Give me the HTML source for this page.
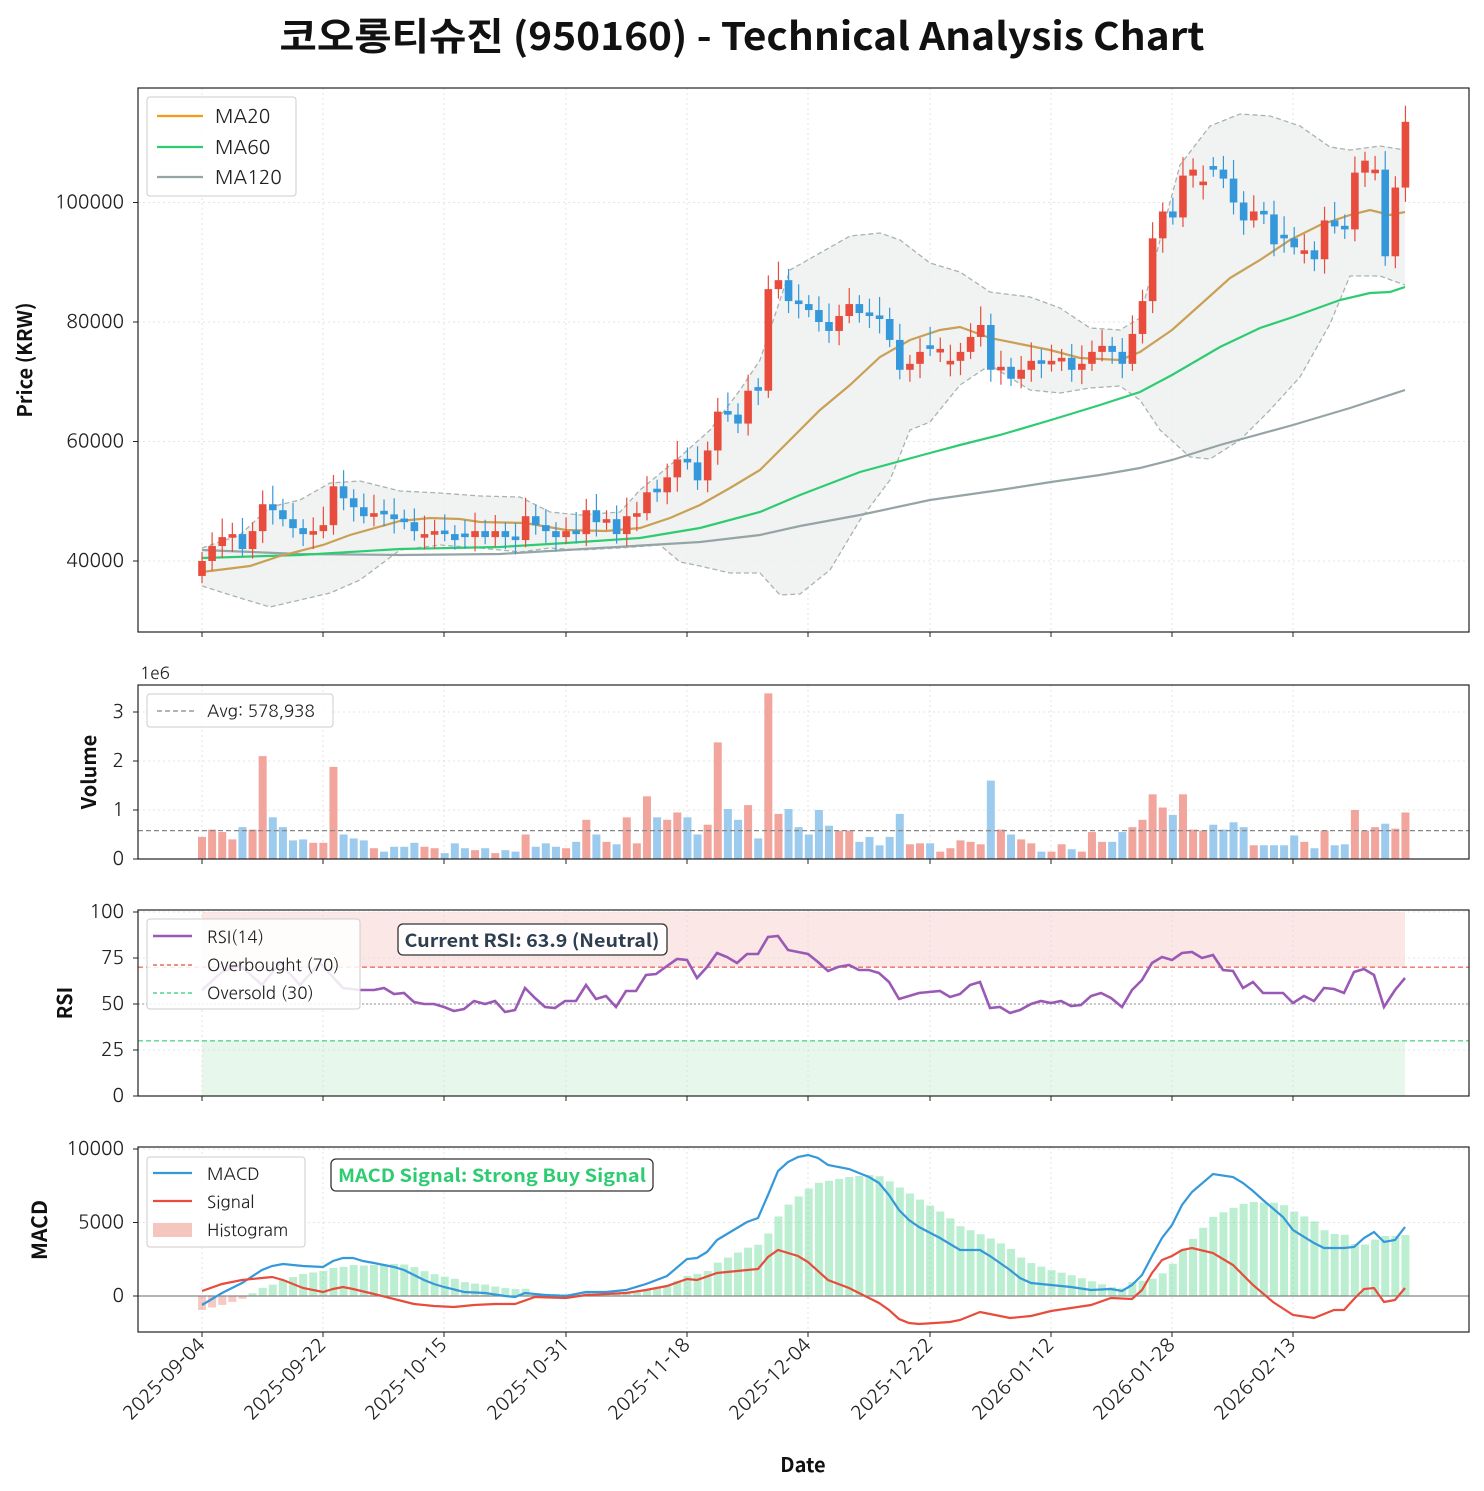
<!DOCTYPE html>
<html><head><meta charset="utf-8">
<style>
html,body{margin:0;padding:0;background:#fff;}
svg{display:block;font-family:"NanumGothic","Liberation Sans","Noto Sans CJK KR",sans-serif;}
.b{font-family:"Noto Sans CJK KR","Liberation Sans",sans-serif;font-weight:bold;}
</style></head>
<body>
<svg id="s" width="1484" height="1491" xmlns="http://www.w3.org/2000/svg"></svg>
<script>
const S=document.getElementById('s');
let h='';
const X=i=>202+i*10.113;
const pts=a=>a.map(p=>p[0]+','+p[1]).join(' ');
const py=p=>561-(p-40000)*0.005975;
h+='<rect width="1484" height="1491" fill="#fff"/>';
h+='<text class="b" x="742" y="50" text-anchor="middle" font-size="38" fill="#111" textLength="925" lengthAdjust="spacingAndGlyphs">코오롱티슈진 (950160) - Technical Analysis Chart</text>';
const ticksX=[202,323,444,566,687,808,930,1051,1172,1293];
const dates=['2025-09-04','2025-09-22','2025-10-15','2025-10-31','2025-11-18','2025-12-04','2025-12-22','2026-01-12','2026-01-28','2026-02-13'];
function panel(y0,y1,yt){
  let s='';
  ticksX.forEach(x=>{s+=`<line x1="${x}" y1="${y0}" x2="${x}" y2="${y1}" stroke="#ddd" stroke-width="0.8" stroke-dasharray="2,3"/>`;
    s+=`<line x1="${x}" y1="${y1}" x2="${x}" y2="${y1+5}" stroke="#222"/>`;});
  yt.forEach(t=>{s+=`<line x1="138" y1="${t[0]}" x2="1469" y2="${t[0]}" stroke="#ddd" stroke-width="0.8" stroke-dasharray="2,3"/>`;
    s+=`<line x1="133" y1="${t[0]}" x2="138" y2="${t[0]}" stroke="#222"/>`;
    s+=`<text x="124" y="${t[0]+6}" text-anchor="end" font-size="19" fill="#222">${t[1]}</text>`;});
  return s;
}
function frame(y0,y1){return `<rect x="138" y="${y0}" width="1331" height="${y1-y0}" fill="none" stroke="#222" stroke-width="1.2"/>`;}
h+=panel(88,632,[[py(100000),'100000'],[py(80000),'80000'],[py(60000),'60000'],[py(40000),'40000']]);
const bbU=[[202,548],[240,535],[270,507],[300,500],[330,483],[360,481],[400,491],[440,493],[480,496],[520,497],[550,512],[580,515],[620,512],[640,490],[680,457],[710,430],[740,390],[760,360],[790,270],[820,253],[850,236],[880,233],[900,240],[930,263],[960,272],[990,292],[1030,297],[1060,308],[1090,328],[1120,330],[1140,318],[1160,240],[1180,165],[1210,126],[1240,114],[1270,116],[1300,126],[1330,147],[1350,150],[1380,146],[1405,150]];
const bbL=[[202,586],[240,598],[270,607],[300,600],[330,593],[360,580],[400,550],[440,545],[480,548],[520,552],[550,548],[580,550],[620,548],[660,545],[680,562],[700,566],[730,573],[760,573],[780,595],[800,594],[830,570],[860,520],[890,480],[910,430],[930,422],[960,385],[990,365],[1030,390],[1060,393],[1090,388],[1120,386],[1140,400],[1160,430],[1190,457],[1210,459],[1240,440],[1270,410],[1300,377],[1330,324],[1350,276],[1380,276],[1405,285]];
h+=`<polygon points="${pts(bbU.concat(bbL.slice().reverse()))}" fill="#eef1f0" opacity="0.85"/>`;
h+=`<polyline points="${pts(bbU)}" fill="none" stroke="#aab2b2" stroke-width="1.3" stroke-dasharray="5,3"/>`;
h+=`<polyline points="${pts(bbL)}" fill="none" stroke="#aab2b2" stroke-width="1.3" stroke-dasharray="5,3"/>`;
const ma120=[[202,550],[300,554],[400,555],[500,554],[600,548],[700,542],[760,535],[800,526],[860,515],[930,500],[1000,490],[1051,482],[1100,475],[1140,468],[1172,460],[1220,445],[1293,425],[1350,408],[1405,390]];
const ma60=[[202,558],[300,555],[400,549],[500,547],[566,543],[640,538],[700,528],[760,512],[800,495],[860,472],[930,453],[960,445],[1000,435],[1051,420],[1100,405],[1140,392],[1172,375],[1220,347],[1260,328],[1293,317],[1340,300],[1370,293],[1390,292],[1405,287]];
const ma20=[[202,572],[250,566],[280,556],[323,545],[350,535],[400,521],[430,518],[460,519],[480,522],[525,523],[566,530],[606,531],[640,528],[670,518],[700,505],[730,488],[760,470],[790,440],[820,410],[850,385],[880,357],[910,340],[940,330],[960,327],[990,338],[1020,344],[1050,350],[1080,358],[1120,360],[1140,352],[1172,330],[1200,305],[1230,278],[1260,260],[1290,240],[1320,225],[1350,215],[1370,210],[1390,215],[1405,212]];
h+=`<polyline points="${pts(ma120)}" fill="none" stroke="#95a5a6" stroke-width="2.2"/>`;
h+=`<polyline points="${pts(ma60)}" fill="none" stroke="#2ecc71" stroke-width="2.2"/>`;
h+=`<polyline points="${pts(ma20)}" fill="none" stroke="#c9a055" stroke-width="2.2"/>`;
const C=[40000,42500,44000,44500,42000,45000,49500,48500,47000,45500,44500,45000,46000,52500,50500,49000,47500,48000,47800,47000,46500,45000,44500,45000,44500,43500,44000,45000,44000,45000,44000,43500,47500,46000,45000,44000,45000,44500,48500,46500,47000,44500,47500,48000,51500,51500,54000,57000,56500,53500,58500,65000,64500,63000,68500,68500,85500,87000,83500,83000,82000,80000,78500,81000,83000,81500,81000,80500,77000,72000,73000,75000,75500,75500,73500,75000,77500,79500,72000,72500,70500,72000,73500,73000,73500,74000,72000,73000,75000,76000,75000,73000,78000,83500,94000,98500,97500,104500,105500,103500,105500,104000,100000,97000,98500,98000,93000,94000,92500,92000,90500,97000,96000,95500,105000,107000,105500,91000,102500,113500];
const V=[[.45,1],[.6,1],[.55,1],[.4,1],[.65,0],[.6,1],[2.1,1],[.85,0],[.65,0],[.38,0],[.4,0],[.33,1],[.33,1],[1.88,1],[.5,0],[.42,0],[.38,0],[.22,1],[.15,0],[.25,0],[.25,0],[.33,0],[.25,1],[.22,1],[.12,0],[.32,0],[.22,0],[.18,1],[.22,0],[.12,1],[.18,0],[.15,0],[.5,1],[.25,0],[.32,0],[.25,0],[.22,1],[.35,0],[.8,1],[.5,0],[.35,1],[.3,0],[.85,1],[.32,1],[1.28,1],[.85,0],[.8,1],[.95,1],[.85,0],[.5,0],[.7,1],[2.38,1],[1.02,0],[.8,0],[1.1,1],[.42,0],[3.38,1],[.92,1],[1.02,0],[.65,0],[.5,0],[1.0,0],[.68,0],[.58,1],[.58,1],[.35,0],[.45,0],[.28,0],[.45,0],[.92,0],[.3,1],[.32,1],[.32,0],[.15,1],[.22,1],[.38,1],[.35,1],[.3,1],[1.6,0],[.6,1],[.5,0],[.4,1],[.32,1],[.15,0],[.15,1],[.3,1],[.2,0],[.15,1],[.55,1],[.35,1],[.35,0],[.55,0],[.65,1],[.8,1],[1.32,1],[1.05,1],[.9,0],[1.32,1],[.6,1],[.58,1],[.7,0],[.6,0],[.75,0],[.65,0],[.28,1],[.28,0],[.28,0],[.28,0],[.48,0],[.35,1],[.22,0],[.58,1],[.28,0],[.3,0],[1.0,1],[.58,1],[.65,1],[.72,0],[.62,1],[.95,1]];
for(let i=0;i<120;i++){
  const up=V[i][1]; const c=C[i]; const p=i?C[i-1]:37500;
  let o,cl;
  if(up){cl=c;o=Math.min(p,c-600);}else{cl=c;o=Math.max(p,c+600);}
  const hi=Math.max(o,cl)+1500+((i*37)%5)*400, lo=Math.min(o,cl)-1200-((i*53)%4)*400;
  const col=up?'#e74c3c':'#3498db'; const x=X(i);
  h+=`<line x1="${x}" y1="${py(hi)}" x2="${x}" y2="${py(lo)}" stroke="${col}" stroke-width="1.2"/>`;
  const t=py(Math.max(o,cl)),b=py(Math.min(o,cl));
  h+=`<rect x="${x-3.8}" y="${t}" width="7.6" height="${Math.max(b-t,1)}" fill="${col}"/>`;
}
h+=frame(88,632);
h+=`<rect x="147" y="97" width="149" height="99" rx="3" fill="#fff" fill-opacity="0.85" stroke="#ccc"/>`;
[['MA20','#f39c12',116],['MA60','#2ecc71',147],['MA120','#95a5a6',177]].forEach(l=>{
 h+=`<line x1="157" y1="${l[2]}" x2="203" y2="${l[2]}" stroke="${l[1]}" stroke-width="2.2"/><text x="215" y="${l[2]+7}" font-size="19" fill="#222">${l[0]}</text>`;});
h+=`<text class="b" transform="translate(32,360) rotate(-90)" text-anchor="middle" font-size="20" fill="#111">Price (KRW)</text>`;
const vy=v=>859-v*49;
h+=panel(685,859,[[vy(0),'0'],[vy(1),'1'],[vy(2),'2'],[vy(3),'3']]);
for(let i=0;i<120;i++){const x=X(i);const v=V[i][0];
 h+=`<rect x="${x-4}" y="${vy(v)}" width="8" height="${v*49}" fill="${V[i][1]?'#f1a59d':'#9ccbee'}"/>`;}
h+=`<line x1="138" y1="${vy(0.578938)}" x2="1469" y2="${vy(0.578938)}" stroke="#888" stroke-width="1.3" stroke-dasharray="5,3"/>`;
h+=frame(685,859);
h+=`<text x="140" y="679" font-size="17" fill="#222">1e6</text>`;
h+=`<rect x="147" y="694" width="186" height="33" rx="3" fill="#fff" fill-opacity="0.85" stroke="#ccc"/>`;
h+=`<line x1="157" y1="711" x2="195" y2="711" stroke="#888" stroke-width="1.3" stroke-dasharray="5,3"/><text x="207" y="717" font-size="17" fill="#222">Avg: 578,938</text>`;
h+=`<text class="b" transform="translate(96,772) rotate(-90)" text-anchor="middle" font-size="20" fill="#111">Volume</text>`;
const ry=r=>1096-r*1.84;
h+=`<rect x="202" y="${ry(100)}" width="1203" height="${ry(70)-ry(100)}" fill="#fbe7e6"/>`;
h+=`<rect x="202" y="${ry(30)}" width="1203" height="${ry(0)-ry(30)}" fill="#e7f7ec"/>`;
h+=panel(910,1096,[[ry(0),'0'],[ry(25),'25'],[ry(50),'50'],[ry(75),'75'],[ry(100),'100']]);
h+=`<line x1="138" y1="${ry(70)}" x2="1469" y2="${ry(70)}" stroke="#e74c3c" stroke-opacity="0.8" stroke-width="1.3" stroke-dasharray="5,3"/>`;
h+=`<line x1="138" y1="${ry(30)}" x2="1469" y2="${ry(30)}" stroke="#2ecc71" stroke-opacity="0.8" stroke-width="1.3" stroke-dasharray="5,3"/>`;
h+=`<line x1="138" y1="${ry(50)}" x2="1469" y2="${ry(50)}" stroke="#aaa" stroke-width="1.2" stroke-dasharray="2,2"/>`;
const rsi=[[202,990],[222,972],[240,965],[262,985],[280,963],[300,985],[320,963],[343,988],[360,990],[374,990],[384,988],[394,994],[404,993],[414,1002],[424,1004],[434,1004],[444,1007],[454,1011],[464,1009],[474,1001],[485,1004],[495,1001],[505,1012],[515,1010],[525,988],[535,998],[545,1007],[555,1008],[565,1001],[576,1001],[586,985],[596,999],[606,996],[616,1007],[626,991],[636,991],[646,975],[656,974],[667,966],[677,959],[687,960],[697,978],[707,967],[717,953],[727,957],[737,963],[747,954],[758,954],[768,937],[778,936],[788,950],[798,952],[808,954],[818,962],[828,971],[838,967],[849,965],[859,970],[869,970],[879,973],[889,982],[899,999],[909,996],[919,993],[929,992],[940,991],[950,997],[960,994],[970,985],[980,982],[990,1008],[1000,1007],[1010,1013],[1020,1010],[1031,1004],[1041,1001],[1051,1003],[1061,1001],[1071,1006],[1081,1005],[1091,996],[1101,993],[1111,998],[1122,1007],[1132,990],[1142,980],[1152,963],[1162,957],[1172,960],[1182,953],[1192,952],[1202,958],[1213,955],[1223,970],[1233,971],[1243,988],[1253,982],[1263,993],[1273,993],[1283,993],[1293,1003],[1304,996],[1314,1001],[1324,988],[1334,989],[1344,993],[1354,972],[1364,969],[1374,975],[1384,1007],[1395,990],[1405,978]];
h+=`<polyline points="${pts(rsi)}" fill="none" stroke="#9b59b6" stroke-width="2.6"/>`;
h+=frame(910,1096);
h+=`<rect x="147" y="919" width="213" height="90" rx="3" fill="#fff" fill-opacity="0.85" stroke="#ccc"/>`;
h+=`<line x1="153" y1="936" x2="192" y2="936" stroke="#9b59b6" stroke-width="2.6"/><text x="207" y="943" font-size="17" fill="#222">RSI(14)</text>`;
h+=`<line x1="153" y1="965" x2="192" y2="965" stroke="#e74c3c" stroke-width="1.3" stroke-dasharray="4,3"/><text x="207" y="971" font-size="17" fill="#222">Overbought (70)</text>`;
h+=`<line x1="153" y1="993" x2="192" y2="993" stroke="#2ecc71" stroke-width="1.3" stroke-dasharray="4,3"/><text x="207" y="999" font-size="17" fill="#222">Oversold (30)</text>`;
h+=`<rect x="398" y="924" width="269" height="31" rx="5" fill="#fff" fill-opacity="0.9" stroke="#333" stroke-width="1.3"/>`;
h+=`<text class="b" x="532" y="947" text-anchor="middle" font-size="18" fill="#2c3e50" textLength="255" lengthAdjust="spacingAndGlyphs">Current RSI: 63.9 (Neutral)</text>`;
h+=`<text class="b" transform="translate(72,1003) rotate(-90)" text-anchor="middle" font-size="20" fill="#111">RSI</text>`;
const my=m=>1296-m*0.0147;
h+=panel(1147,1332,[[my(0),'0'],[my(5000),'5000'],[my(10000),'10000']]);
const macd=[[202,1305],[222,1293],[242,1283],[262,1270],[272,1266],[283,1264],[303,1266],[323,1267],[333,1261],[343,1258],[353,1258],[363,1261],[374,1263],[384,1265],[394,1267],[404,1270],[414,1275],[424,1280],[434,1284],[444,1287],[464,1292],[485,1293],[505,1296],[515,1297],[525,1293],[545,1295],[566,1296],[586,1292],[606,1292],[626,1290],[646,1284],[667,1276],[687,1259],[697,1258],[707,1252],[717,1240],[737,1228],[747,1222],[758,1218],[768,1195],[778,1171],[788,1162],[798,1157],[808,1155],[818,1158],[828,1165],[849,1169],[869,1177],[879,1183],[889,1195],[899,1210],[909,1220],[919,1227],[940,1238],[950,1244],[960,1250],[980,1250],[990,1256],[1000,1263],[1010,1270],[1020,1278],[1031,1283],[1051,1285],[1071,1287],[1091,1290],[1111,1289],[1122,1291],[1132,1285],[1142,1275],[1152,1256],[1162,1238],[1172,1225],[1182,1205],[1192,1192],[1213,1174],[1233,1177],[1243,1183],[1253,1191],[1263,1200],[1283,1217],[1293,1230],[1314,1243],[1324,1248],[1344,1248],[1354,1247],[1364,1238],[1374,1232],[1384,1242],[1395,1240],[1405,1227]];
const sig=[[202,1291],[222,1284],[242,1280],[262,1278],[272,1277],[283,1280],[303,1288],[323,1292],[333,1289],[343,1287],[353,1289],[374,1294],[394,1299],[414,1304],[434,1306],[454,1307],[474,1305],[495,1304],[515,1304],[535,1297],[566,1298],[586,1295],[626,1293],[646,1290],[667,1286],[687,1279],[697,1280],[717,1273],[737,1271],[758,1269],[768,1257],[778,1250],[798,1256],[808,1262],[828,1280],[849,1288],[869,1298],[879,1303],[889,1310],[899,1319],[909,1323],[919,1324],[950,1322],[960,1320],[980,1312],[990,1314],[1010,1318],[1031,1316],[1051,1311],[1071,1308],[1091,1305],[1111,1298],[1132,1299],[1142,1290],[1152,1273],[1162,1260],[1172,1256],[1182,1250],[1192,1248],[1213,1253],[1233,1265],[1253,1285],[1273,1302],[1293,1315],[1314,1318],[1334,1310],[1344,1310],[1354,1299],[1364,1289],[1374,1288],[1384,1302],[1395,1300],[1405,1288]];
function itp(a,x){for(let k=1;k<a.length;k++){if(x<=a[k][0]){const t=(x-a[k-1][0])/(a[k][0]-a[k-1][0]);return a[k-1][1]+t*(a[k][1]-a[k-1][1]);}}return a[a.length-1][1];}
for(let i=0;i<120;i++){const x=X(i);const d=itp(sig,x)-itp(macd,x);
 if(d>=0)h+=`<rect x="${x-4}" y="${1296-d}" width="8" height="${d}" fill="#2ecc71" fill-opacity="0.32"/>`;
 else h+=`<rect x="${x-4}" y="1296" width="8" height="${-d}" fill="#e74c3c" fill-opacity="0.3"/>`;}
h+=`<line x1="138" y1="1296" x2="1469" y2="1296" stroke="#888" stroke-width="1.2"/>`;
h+=`<polyline points="${pts(macd)}" fill="none" stroke="#3498db" stroke-width="2.2"/>`;
h+=`<polyline points="${pts(sig)}" fill="none" stroke="#e74c3c" stroke-width="2.2"/>`;
h+=frame(1147,1332);
h+=`<rect x="147" y="1157" width="158" height="90" rx="3" fill="#fff" fill-opacity="0.85" stroke="#ccc"/>`;
h+=`<line x1="153" y1="1173" x2="192" y2="1173" stroke="#3498db" stroke-width="2.2"/><text x="207" y="1180" font-size="17" fill="#222">MACD</text>`;
h+=`<line x1="153" y1="1201" x2="192" y2="1201" stroke="#e74c3c" stroke-width="2.2"/><text x="207" y="1208" font-size="17" fill="#222">Signal</text>`;
h+=`<rect x="153" y="1223" width="39" height="14" fill="#f5c6bd"/><text x="207" y="1236" font-size="17" fill="#222">Histogram</text>`;
h+=`<rect x="331" y="1159" width="322" height="32" rx="5" fill="#fff" fill-opacity="0.9" stroke="#333" stroke-width="1.3"/>`;
h+=`<text class="b" x="492" y="1182" text-anchor="middle" font-size="18" fill="#2ecc71" textLength="308" lengthAdjust="spacingAndGlyphs">MACD Signal: Strong Buy Signal</text>`;
h+=`<text class="b" transform="translate(47,1230) rotate(-90)" text-anchor="middle" font-size="21" fill="#111">MACD</text>`;
ticksX.forEach((x,k)=>{h+=`<text transform="translate(${x+4},1346) rotate(-45)" text-anchor="end" font-size="19" fill="#222">${dates[k]}</text>`;});
h+=`<text class="b" x="803" y="1472" text-anchor="middle" font-size="20" fill="#111">Date</text>`;
S.innerHTML=h;
</script>
</body></html>
